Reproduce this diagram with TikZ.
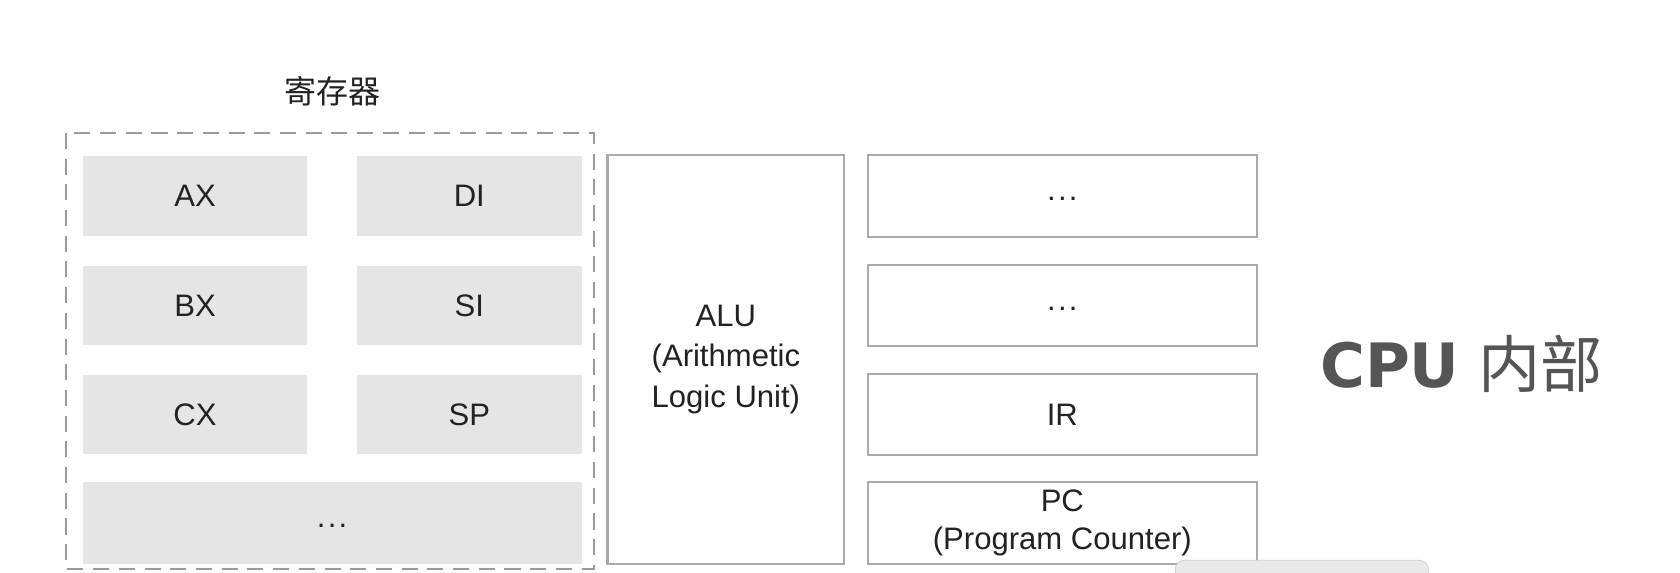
\documentclass[tikz,border=0pt]{standalone}
\usepackage{fontspec}
\setmainfont{Liberation Sans}
\newfontfamily\cjk{Noto Sans CJK SC}
\newfontfamily\cpufont{DejaVu Sans}
\usetikzlibrary{positioning}
\definecolor{regfill}{HTML}{E5E5E5}
\definecolor{boxline}{HTML}{ABABAB}
\definecolor{dashline}{HTML}{9A9A9A}
\definecolor{textdark}{HTML}{222222}
\definecolor{titlegray}{HTML}{555555}
\definecolor{barfill}{HTML}{E9E9E9}
\definecolor{barline}{HTML}{CFCFCF}
\newcommand{\etc}{\raisebox{-5pt}{.\kern1.2pt.\kern1.2pt.}}

\begin{document}
\begin{tikzpicture}[x = 0.02cm, y = -0.02cm,
    reg/.style = {fill = regfill, text = textdark, minimum width = 4.2cm, minimum height = 1.48cm, font = \fontsize{16.5}{20}\selectfont},
    unit/.style = {draw = boxline, line width = 1.1pt, fill = white, text = textdark, align = center, font = \fontsize{16.5}{21.6}\selectfont},
    slot/.style = {unit, minimum width = 7.26cm, minimum height = 1.52cm}]
    \useasboundingbox[fill = white] (0,0) rectangle (1568,534);
    % registers
    \draw[dashline, line width = 1pt, dash pattern = on 0.3cm off 0.18cm] (62,124) rectangle (554,531);
    \node[text = textdark, font = \cjk\fontsize{17}{20}\selectfont] (regs) at (310,85) {寄存器};
    \node[reg] (ax) at (182,183) {AX};
    \node[reg] (di) at (438,183) {DI};
    \node[reg] (bx) at (182,285) {BX};
    \node[reg] (si) at (438,285) {SI};
    \node[reg] (cx) at (182,387) {CX};
    \node[reg] (sp) at (438,387) {SP};
    \node[reg, minimum width = 9.32cm, minimum height = 1.52cm] (more) at (310,488) {\etc};
    % alu
    \node[unit, minimum width = 4.42cm, minimum height = 7.62cm] (alu) at (677.5,335.5) {ALU\\(Arithmetic\\Logic Unit)};
    % right column
    \node[slot] (s1) at (991.5,183) {\etc};
    \node[slot] (s2) at (991.5,285) {\etc};
    \node[slot] (ir) at (991.5,387) {IR};
    \node[slot] (pc) at (991.5,488) {PC\\[-1pt](Program Counter)};
    % title
    \node[text = titlegray] (cpu) at (1364,340) {\cpufont\bfseries\fontsize{32.5}{36}\selectfont CPU\hspace{0.35cm}\cjk\mdseries\fontsize{33}{36}\selectfont 内部};
    % bar at the bottom
    \draw[barline, fill = barfill, rounded corners = 0.16cm] (1097,545) |- (1333,523) -- (1333,545);
\end{tikzpicture}
\end{document}
